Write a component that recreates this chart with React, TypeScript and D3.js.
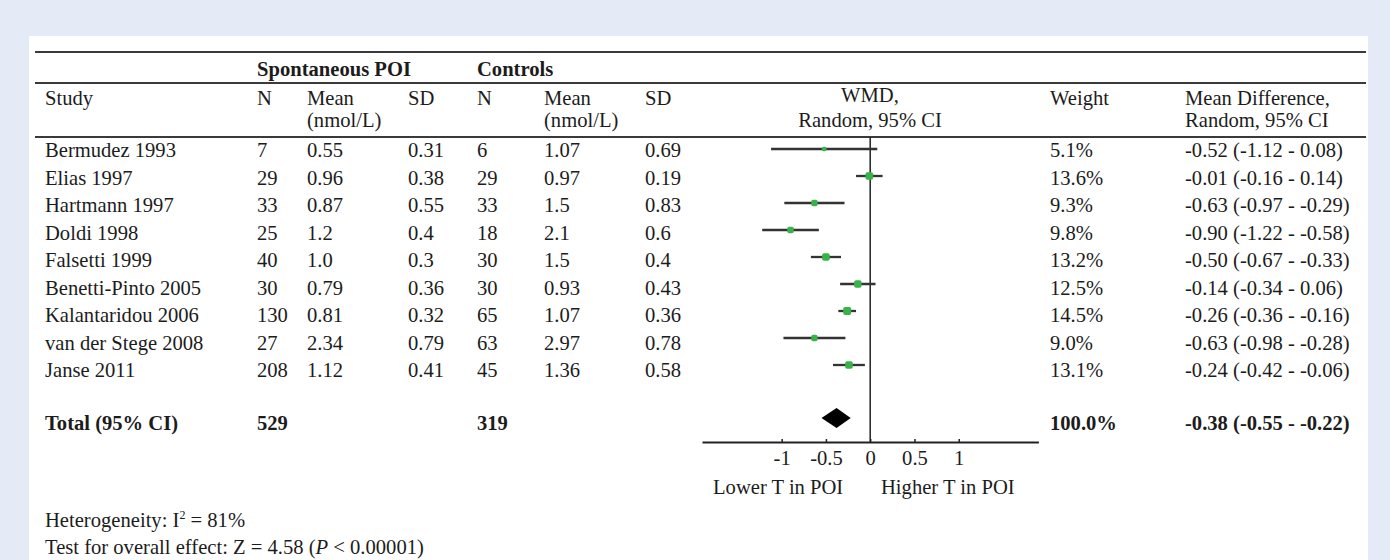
import React, { useEffect, useRef } from "react";
import * as d3 from "d3";

// study rows
const studies = [
  "Bermudez 1993",
  "Elias 1997",
  "Hartmann 1997",
  "Doldi 1998",
  "Falsetti 1999",
  "Benetti-Pinto 2005",
  "Kalantaridou 2006",
  "van der Stege 2008",
  "Janse 2011",
];
const poiN = [7, 29, 33, 25, 40, 30, 130, 27, 208];
const poiMean = ["0.55", "0.96", "0.87", "1.2", "1.0", "0.79", "0.81", "2.34", "1.12"];
const poiSD = ["0.31", "0.38", "0.55", "0.4", "0.3", "0.36", "0.32", "0.79", "0.41"];
const ctrlN = [6, 29, 33, 18, 30, 30, 65, 63, 45];
const ctrlMean = ["1.07", "0.97", "1.5", "2.1", "1.5", "0.93", "1.07", "2.97", "1.36"];
const ctrlSD = ["0.69", "0.19", "0.83", "0.6", "0.4", "0.43", "0.36", "0.78", "0.58"];
const md = [-0.52, -0.01, -0.63, -0.9, -0.5, -0.14, -0.26, -0.63, -0.24];
const ciLow = [-1.12, -0.16, -0.97, -1.22, -0.67, -0.34, -0.36, -0.98, -0.42];
const ciHigh = [0.08, 0.14, -0.29, -0.58, -0.33, 0.06, -0.16, -0.28, -0.06];
const weights = [5.1, 13.6, 9.3, 9.8, 13.2, 12.5, 14.5, 9.0, 13.1];

// pooled result
const totalPoiN = 529;
const totalCtrlN = 319;
const totalMD = -0.38;
const totalLow = -0.55;
const totalHigh = -0.22;
const totalWeight = 100.0;

const axisTicks = [-1, -0.5, 0, 0.5, 1];
const axisDomain = [-1.9, 1.9];

const W = 1390;
const H = 560;
const FONT = "'Liberation Serif', 'Times New Roman', serif";
const FS = 20.6;

const fmt2 = (v: number) => v.toFixed(2);
const ciText = (m: number, lo: number, hi: number) => `${fmt2(m)} (${fmt2(lo)} - ${fmt2(hi)})`;

function ForestPlot() {
  const ref = useRef<SVGSVGElement>(null);

  useEffect(() => {
    const svg = d3.select(ref.current);
    svg.selectAll("*").remove();

    svg.append("rect").attr("width", W).attr("height", H).attr("fill", "#e5ebf6");
    svg.append("rect").attr("x", 29).attr("y", 36).attr("width", 1339).attr("height", H - 36).attr("fill", "#fff");

    const g = svg.append("g")
      .attr("font-family", FONT)
      .attr("font-size", FS)
      .attr("fill", "#1c1c1c");

    // horizontal rules of the table
    [52, 83, 137].forEach(y => {
      g.append("line")
        .attr("x1", 35).attr("x2", 1366)
        .attr("y1", y).attr("y2", y)
        .attr("stroke", "#3a3a3a").attr("stroke-width", 2);
    });

    const col = {study: 45, n1: 257, mean1: 307, sd1: 408, n2: 477, mean2: 544, sd2: 645, weight: 1050, md: 1185};

    const txt = (x: number, y: number, s: string, bold = false, anchor = "start") =>
      g.append("text").attr("x", x).attr("y", y)
        .attr("text-anchor", anchor)
        .attr("font-weight", bold ? "bold" : "normal")
        .text(s);

    // header
    txt(col.n1, 76, "Spontaneous POI", true);
    txt(col.n2, 76, "Controls", true);
    txt(col.study, 105, "Study");
    txt(col.n1, 105, "N");
    txt(col.mean1, 105, "Mean");
    txt(col.mean1, 127, "(nmol/L)");
    txt(col.sd1, 105, "SD");
    txt(col.n2, 105, "N");
    txt(col.mean2, 105, "Mean");
    txt(col.mean2, 127, "(nmol/L)");
    txt(col.sd2, 105, "SD");
    txt(870, 102, "WMD,", false, "middle");
    txt(870, 127, "Random, 95% CI", false, "middle");
    txt(col.weight, 105, "Weight");
    txt(col.md, 105, "Mean Difference,");
    txt(col.md, 127, "Random, 95% CI");

    // rows
    const textY = d3.scaleLinear().domain([0, studies.length - 1]).range([157, 377]);
    const markY = d3.scaleLinear().domain([0, studies.length - 1]).range([149, 365]);

    const rows = g.append("g").selectAll("g")
      .data(studies.map((s, i) => i))
      .join("g");
    const cells: [number, (i: number) => string][] = [
      [col.study, i => studies[i]],
      [col.n1, i => String(poiN[i])],
      [col.mean1, i => poiMean[i]],
      [col.sd1, i => poiSD[i]],
      [col.n2, i => String(ctrlN[i])],
      [col.mean2, i => ctrlMean[i]],
      [col.sd2, i => ctrlSD[i]],
      [col.weight, i => `${weights[i].toFixed(1)}%`],
      [col.md, i => ciText(md[i], ciLow[i], ciHigh[i])],
    ];
    cells.forEach(([x, f]) => {
      rows.append("text").attr("x", x).attr("y", i => textY(i)).text(i => f(i));
    });

    // totals
    const totalY = 430;
    txt(col.study, totalY, "Total (95% CI)", true);
    txt(col.n1, totalY, String(totalPoiN), true);
    txt(col.n2, totalY, String(totalCtrlN), true);
    txt(col.weight, totalY, `${totalWeight.toFixed(1)}%`, true);
    txt(col.md, totalY, ciText(totalMD, totalLow, totalHigh), true);

    // forest plot
    const x = d3.scaleLinear().domain(axisDomain).range([702, 1038.4]);
    const axisY = 442;
    const size = d3.scaleSqrt().domain([0, 14.5]).range([0, 8]);

    g.append("line")
      .attr("x1", x(0)).attr("x2", x(0))
      .attr("y1", 137).attr("y2", axisY)
      .attr("stroke", "#222").attr("stroke-width", 1.5);

    const plot = g.append("g");
    plot.selectAll("line.ci")
      .data(md.map((m, i) => i))
      .join("line")
      .attr("class", "ci")
      .attr("x1", i => x(ciLow[i])).attr("x2", i => x(ciHigh[i]))
      .attr("y1", i => markY(i)).attr("y2", i => markY(i))
      .attr("stroke", "#333").attr("stroke-width", 2.3);
    plot.selectAll("rect.pt")
      .data(md.map((m, i) => i))
      .join("rect")
      .attr("class", "pt")
      .attr("x", i => x(md[i]) - size(weights[i]) / 2)
      .attr("y", i => markY(i) - size(weights[i]) / 2)
      .attr("width", i => size(weights[i]))
      .attr("height", i => size(weights[i]))
      .attr("rx", 2)
      .attr("fill", "#37b34a");

    const dY = 418;
    const dH = 10;
    plot.append("path")
      .attr("d", `M${x(totalLow)},${dY} L${x(totalMD)},${dY - dH} L${x(totalHigh)},${dY} L${x(totalMD)},${dY + dH} Z`)
      .attr("fill", "#000");

    const axis = d3.axisBottom(x)
      .tickValues(axisTicks)
      .tickSizeInner(-3)
      .tickSizeOuter(0)
      .tickPadding(8)
      .tickFormat(d => String(d));
    const ax = g.append("g").attr("transform", `translate(0,${axisY})`).call(axis);
    ax.select(".domain").attr("stroke", "#222").attr("stroke-width", 2);
    ax.selectAll(".tick line").attr("stroke", "#222").attr("stroke-width", 1.5);
    ax.selectAll(".tick text")
      .attr("font-family", FONT).attr("font-size", FS).attr("fill", "#1c1c1c");

    txt(713, 494, "Lower T in POI");
    txt(881, 494, "Higher T in POI");

    // footnotes
    const het = g.append("text").attr("x", col.study).attr("y", 527);
    het.append("tspan").text("Heterogeneity: I");
    het.append("tspan").attr("font-size", 12).attr("dy", -8).text("2");
    het.append("tspan").attr("dy", 8).text(" = 81%");

    const test = g.append("text").attr("x", col.study).attr("y", 554);
    test.append("tspan").text("Test for overall effect: Z = 4.58 (");
    test.append("tspan").attr("font-style", "italic").text("P");
    test.append("tspan").text(" < 0.00001)");
  }, []);

  return <svg ref={ref} width={W} height={H} style={{position: "absolute", left: 0, top: 0}} />;
}

export default function App() {
  return <ForestPlot />;
}
